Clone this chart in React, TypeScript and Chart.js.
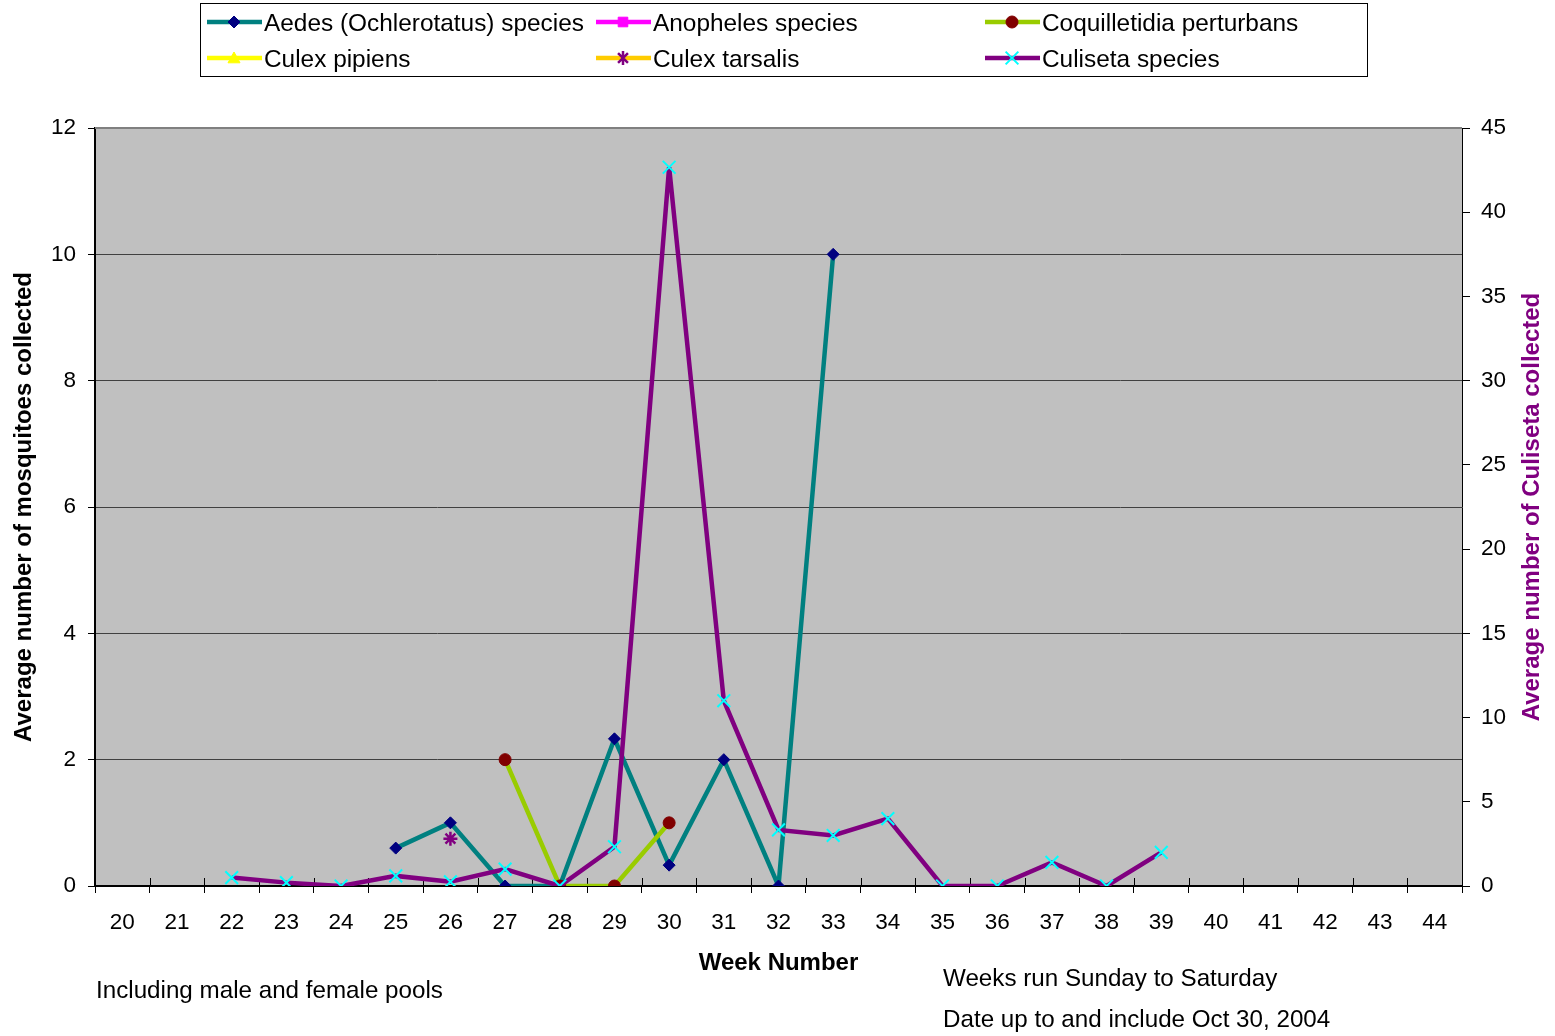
import React, { useEffect, useRef } from 'react';
import { Chart, registerables } from 'chart.js';

Chart.register(...registerables);

const weeks = ['20', '21', '22', '23', '24', '25', '26', '27', '28', '29', '30', '31', '32', '33', '34', '35', '36', '37', '38', '39', '40', '41', '42', '43', '44'];

const N = null;
const aedes = [N, N, N, N, N, 0.6, 1, 0, 0, 2.33, 0.33, 2, 0, 10, N, N, N, N, N, N, N, N, N, N, N];
const anopheles = [N, N, N, N, N, N, N, N, N, N, N, N, N, N, N, N, N, N, N, N, N, N, N, N, N];
const coquilletidia = [N, N, N, N, N, N, N, 2, 0, 0, 1, N, N, N, N, N, N, N, N, N, N, N, N, N, N];
const culexPipiens = [N, N, N, N, N, N, N, N, N, N, N, N, N, N, N, N, N, N, N, N, N, N, N, N, N];
const culexTarsalis = [N, N, N, N, N, N, 0.75, N, N, N, N, N, N, N, N, N, N, N, N, N, N, N, N, N, N];
const culiseta = [N, N, 0.5, 0.2, 0, 0.6, 0.25, 1, 0, 2.33, 42.67, 11, 3.33, 3, 4, 0, 0, 1.4, 0, 2, N, N, N, N, N];

const leftTicks = { min: 0, max: 12, step: 2 };
const rightTicks = { min: 0, max: 45, step: 5 };

const FONT = "'Liberation Sans', Arial, sans-serif";

type Marker = { style: string; r: number; fill: string; stroke: string; bw: number };

function drawMarker(ctx: CanvasRenderingContext2D, m: Marker, x: number, y: number) {
  const r = m.r;
  ctx.save();
  ctx.fillStyle = m.fill;
  ctx.strokeStyle = m.stroke;
  ctx.lineWidth = m.bw;
  ctx.beginPath();
  if (m.style === 'rectRot') {
    ctx.moveTo(x, y - r);
    ctx.lineTo(x + r, y);
    ctx.lineTo(x, y + r);
    ctx.lineTo(x - r, y);
    ctx.closePath();
    ctx.fill();
    ctx.stroke();
  } else if (m.style === 'rect') {
    const s = r * 0.8;
    ctx.rect(x - s, y - s, 2 * s, 2 * s);
    ctx.fill();
    ctx.stroke();
  } else if (m.style === 'circle') {
    ctx.arc(x, y, r, 0, Math.PI * 2);
    ctx.fill();
    ctx.stroke();
  } else if (m.style === 'triangle') {
    ctx.moveTo(x, y - r);
    ctx.lineTo(x + r, y + r * 0.8);
    ctx.lineTo(x - r, y + r * 0.8);
    ctx.closePath();
    ctx.fill();
    ctx.stroke();
  } else if (m.style === 'star') {
    const d = r * 0.707;
    ctx.moveTo(x, y - r); ctx.lineTo(x, y + r);
    ctx.moveTo(x - d, y - d); ctx.lineTo(x + d, y + d);
    ctx.moveTo(x + d, y - d); ctx.lineTo(x - d, y + d);
    ctx.stroke();
  } else if (m.style === 'crossRot') {
    const d = r * 0.707;
    ctx.moveTo(x - d, y - d); ctx.lineTo(x + d, y + d);
    ctx.moveTo(x + d, y - d); ctx.lineTo(x - d, y + d);
    ctx.stroke();
  }
  ctx.restore();
}

const legendItems: { label: string; line: string; marker: Marker }[] = [
  { label: 'Aedes (Ochlerotatus) species', line: '#008080', marker: { style: 'rectRot', r: 6, fill: '#000080', stroke: '#000080', bw: 1 } },
  { label: 'Anopheles species', line: '#FF00FF', marker: { style: 'rect', r: 6, fill: '#FF00FF', stroke: '#FF00FF', bw: 1 } },
  { label: 'Coquilletidia perturbans', line: '#99CC00', marker: { style: 'circle', r: 6, fill: '#800000', stroke: '#800000', bw: 1 } },
  { label: 'Culex pipiens', line: '#FFFF00', marker: { style: 'triangle', r: 6, fill: '#FFFF00', stroke: '#FFFF00', bw: 1 } },
  { label: 'Culex tarsalis', line: '#FFCC00', marker: { style: 'star', r: 7, fill: '#800080', stroke: '#800080', bw: 2.5 } },
  { label: 'Culiseta species', line: '#800080', marker: { style: 'crossRot', r: 9, fill: '#00FFFF', stroke: '#00FFFF', bw: 2 } },
];

const decorPlugin = {
  id: 'decor',
  beforeDraw(chart: any) {
    const { ctx, chartArea: a } = chart;
    ctx.save();
    ctx.fillStyle = '#FFFFFF';
    ctx.fillRect(0, 0, chart.width, chart.height);
    ctx.fillStyle = '#C0C0C0';
    ctx.fillRect(a.left, a.top, a.right - a.left, a.bottom - a.top);
    ctx.restore();
  },
  beforeDatasetsDraw(chart: any) {
    const { ctx, chartArea: a } = chart;
    ctx.save();
    ctx.strokeStyle = '#808080';
    ctx.lineWidth = 2;
    ctx.beginPath();
    ctx.moveTo(a.left, a.top);
    ctx.lineTo(a.right, a.top);
    ctx.stroke();
    // x tick marks crossing the axis (inside part)
    const xs = chart.scales.x;
    const n = weeks.length;
    const w = (a.right - a.left) / n;
    ctx.strokeStyle = '#000000';
    ctx.lineWidth = 1;
    ctx.beginPath();
    for (let i = 0; i <= n; i++) {
      const px = Math.round(xs.getPixelForValue(0) - w / 2 + i * w) + 0.5;
      ctx.moveTo(px, a.bottom - 8);
      ctx.lineTo(px, a.bottom);
    }
    ctx.stroke();
    ctx.restore();
  },
  afterDraw(chart: any) {
    const { ctx, chartArea: a } = chart;
    ctx.save();
    // legend box
    ctx.fillStyle = '#FFFFFF';
    ctx.fillRect(200, 3, 1168, 74);
    ctx.strokeStyle = '#000000';
    ctx.lineWidth = 1;
    ctx.strokeRect(200.5, 3.5, 1167, 73);
    const cols = [207, 596, 985];
    const rows = [22, 58];
    ctx.font = `24.4px ${FONT}`;
    ctx.textBaseline = 'middle';
    ctx.textAlign = 'left';
    legendItems.forEach((it, i) => {
      const x0 = cols[i % 3];
      const y = rows[Math.floor(i / 3)];
      ctx.strokeStyle = it.line;
      ctx.lineWidth = 4.5;
      ctx.beginPath();
      ctx.moveTo(x0, y);
      ctx.lineTo(x0 + 55, y);
      ctx.stroke();
      drawMarker(ctx, it.marker, x0 + 27, y);
      ctx.fillStyle = '#000000';
      ctx.fillText(it.label, x0 + 57, y + 2);
    });

    // axis titles
    const cy = (a.top + a.bottom) / 2;
    ctx.font = `bold 24px ${FONT}`;
    ctx.textAlign = 'center';
    ctx.textBaseline = 'middle';
    ctx.fillStyle = '#000000';
    ctx.save();
    ctx.translate(24, cy);
    ctx.rotate(-Math.PI / 2);
    ctx.fillText('Average number of mosquitoes collected', 0, 0);
    ctx.restore();
    ctx.save();
    ctx.fillStyle = '#800080';
    ctx.translate(1532, cy);
    ctx.rotate(-Math.PI / 2);
    ctx.fillText('Average number of Culiseta collected', 0, 0);
    ctx.restore();
    ctx.fillText('Week Number', (a.left + a.right) / 2, 963);

    // notes
    ctx.font = `24.2px ${FONT}`;
    ctx.textAlign = 'left';
    ctx.fillText('Including male and female pools', 96, 991);
    ctx.fillText('Weeks run Sunday to Saturday', 943, 979);
    ctx.fillText('Date up to and include Oct 30, 2004', 943, 1020);
    ctx.restore();
  },
};

export default function App() {
  const ref = useRef<HTMLCanvasElement | null>(null);
  useEffect(() => {
    if (!ref.current) return;
    const mk = (label: string, data: (number | null)[], line: string, m: Marker, axis: string, order: number) => ({
      label,
      data,
      yAxisID: axis,
      order,
      borderColor: line,
      backgroundColor: m.fill,
      borderWidth: 4.5,
      pointStyle: m.style,
      pointRadius: m.r,
      pointBackgroundColor: m.fill,
      pointBorderColor: m.stroke,
      pointBorderWidth: m.bw,
      spanGaps: false,
      tension: 0,
    });
    const chart = new Chart(ref.current, {
      type: 'line',
      data: {
        labels: weeks,
        datasets: [
          mk('Aedes (Ochlerotatus) species', aedes, '#008080', legendItems[0].marker, 'y', 5),
          mk('Anopheles species', anopheles, '#FF00FF', legendItems[1].marker, 'y', 4),
          mk('Coquilletidia perturbans', coquilletidia, '#99CC00', legendItems[2].marker, 'y', 3),
          mk('Culex pipiens', culexPipiens, '#FFFF00', legendItems[3].marker, 'y', 2),
          mk('Culex tarsalis', culexTarsalis, '#FFCC00', legendItems[4].marker, 'y', 1),
          mk('Culiseta species', culiseta, '#800080', legendItems[5].marker, 'y2', 0),
        ] as any,
      },
      options: {
        responsive: false,
        animation: false,
        layout: { padding: { top: 128, left: 0, right: 0, bottom: 0 } },
        plugins: { legend: { display: false }, tooltip: { enabled: false } },
        font: { family: FONT } as any,
        scales: {
          x: {
            type: 'category',
            offset: true,
            grid: { drawOnChartArea: false, drawTicks: true, tickLength: 7, tickColor: '#000000', offset: true },
            border: { color: '#000000', width: 2 },
            ticks: { color: '#000000', font: { size: 22.5, family: FONT }, padding: 16, maxRotation: 0, autoSkip: false },
            afterFit(s: any) { s.height = 150; },
          },
          y: {
            position: 'left',
            min: leftTicks.min,
            max: leftTicks.max,
            ticks: { stepSize: leftTicks.step, color: '#000000', font: { size: 22.5, family: FONT }, padding: 12 },
            grid: { color: '#404040', lineWidth: 1, tickLength: 7, tickColor: '#000000' },
            border: { color: '#000000', width: 2 },
            afterFit(s: any) { s.width = 95; },
          },
          y2: {
            position: 'right',
            min: rightTicks.min,
            max: rightTicks.max,
            ticks: { stepSize: rightTicks.step, color: '#000000', font: { size: 22.5, family: FONT }, padding: 11 },
            grid: { drawOnChartArea: false, tickLength: 8, tickColor: '#000000' },
            border: { color: '#000000', width: 1 },
            afterFit(s: any) { s.width = 93; },
          },
        },
      } as any,
      plugins: [decorPlugin],
    });
    return () => chart.destroy();
  }, []);
  return (
    <div style={{ position: 'fixed', left: 0, top: 0, width: 1555, height: 1036, background: '#fff' }}>
      <canvas ref={ref} width={1555} height={1036} style={{ display: 'block', width: 1555, height: 1036 }} />
    </div>
  );
}
